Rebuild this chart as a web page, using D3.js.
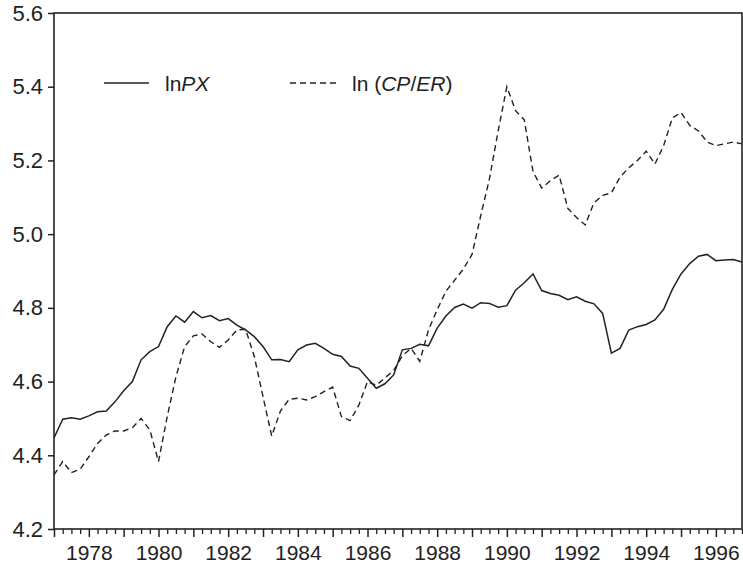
<!DOCTYPE html>
<html><head><meta charset="utf-8">
<script src="https://cdn.jsdelivr.net/npm/d3@7"></script>
<style>
body{margin:0;background:#fff;}
svg text{font-family:"Liberation Sans",Arial,Helvetica,sans-serif;fill:#222;}
</style></head>
<body><svg id="chart" width="743" height="567"></svg>
<script>
const startYear = 1977;
const yearLabels = [1978,1980,1982,1984,1986,1988,1990,1992,1994,1996];
const yTicks = [4.2,4.4,4.6,4.8,5.0,5.2,5.4,5.6];
// quarterly 1977Q1 .. 1996Q4
const lnPX = [
 4.447,4.498,4.502,4.498,4.507,4.518,4.520,4.545,
 4.575,4.600,4.659,4.681,4.695,4.749,4.778,4.761,
 4.790,4.773,4.779,4.765,4.771,4.753,4.740,4.722,
 4.695,4.659,4.660,4.654,4.686,4.699,4.704,4.690,
 4.674,4.668,4.642,4.636,4.609,4.582,4.594,4.618,
 4.686,4.690,4.701,4.697,4.745,4.778,4.801,4.810,
 4.799,4.814,4.812,4.802,4.806,4.848,4.868,4.892,
 4.847,4.839,4.834,4.822,4.830,4.818,4.811,4.785,
 4.677,4.690,4.740,4.749,4.755,4.767,4.796,4.850,
 4.892,4.920,4.940,4.945,4.928,4.930,4.931,4.924
];
const lnCPER = [
 4.347,4.383,4.353,4.362,4.396,4.432,4.455,4.466,
 4.466,4.475,4.500,4.469,4.383,4.505,4.613,4.695,
 4.724,4.729,4.708,4.693,4.713,4.740,4.742,4.668,
 4.559,4.452,4.520,4.552,4.555,4.550,4.559,4.573,
 4.585,4.505,4.494,4.536,4.600,4.590,4.610,4.630,
 4.670,4.690,4.655,4.740,4.795,4.845,4.875,4.905,
 4.945,5.050,5.150,5.280,5.400,5.335,5.310,5.170,
 5.125,5.145,5.160,5.070,5.045,5.025,5.085,5.105,
 5.112,5.155,5.180,5.200,5.225,5.190,5.240,5.315,
 5.330,5.295,5.280,5.250,5.240,5.245,5.250,5.245
];

const svg = d3.select("#chart");
const L=54, R=742, T=13, B=529;
const tOf = i => startYear + i/4;
const x = d3.scaleLinear().domain([startYear, startYear + (lnPX.length-1)/4]).range([L,R]);
const y = d3.scaleLinear().domain([4.2,5.6]).range([B,T]);
const ink = "#222";
const fontFam = "Liberation Sans, Arial, sans-serif";

svg.append("defs").append("clipPath").attr("id","clip")
  .append("rect").attr("x",L).attr("y",T).attr("width",R-L).attr("height",B-T);

// y axis
const yAxis = d3.axisLeft(y).tickValues(yTicks).tickFormat(d3.format(".1f")).tickSize(6).tickPadding(5);
const gy = svg.append("g").attr("transform",`translate(${L},0)`).call(yAxis);
gy.select(".domain").remove();
gy.selectAll(".tick line").attr("stroke",ink).attr("stroke-width",1.5);
gy.selectAll(".tick text").attr("font-size",22).attr("fill",ink).attr("font-family",fontFam);

// x axis: quarterly minor ticks, yearly major ticks
const quarterVals = d3.range(lnPX.length).map(tOf);
const xMinor = d3.axisBottom(x).tickValues(quarterVals.filter((d,i)=>i%4!==0)).tickSize(5).tickFormat("");
const gxm = svg.append("g").attr("transform",`translate(0,${B})`).call(xMinor);
gxm.select(".domain").remove();
gxm.selectAll(".tick line").attr("stroke",ink).attr("stroke-width",1.3);
const yearVals = quarterVals.filter((d,i)=>i%4===0);
const xMajor = d3.axisBottom(x).tickValues(yearVals).tickSize(8)
  .tickFormat(d => yearLabels.includes(d) ? String(d) : "").tickPadding(8);
const gx = svg.append("g").attr("transform",`translate(0,${B})`).call(xMajor);
gx.select(".domain").remove();
gx.selectAll(".tick line").attr("stroke",ink).attr("stroke-width",1.5);
gx.selectAll(".tick text").attr("font-size",21).attr("fill",ink).attr("font-family",fontFam);

// frame
svg.append("rect").attr("x",L).attr("y",T).attr("width",R-L).attr("height",B-T)
  .attr("fill","none").attr("stroke",ink).attr("stroke-width",1.6);

// lines
const line = d3.line().x((d,i)=>x(tOf(i))).y(d=>y(d));
const g = svg.append("g").attr("clip-path","url(#clip)");
g.append("path").datum(lnCPER).attr("d",line).attr("fill","none")
  .attr("stroke",ink).attr("stroke-width",1.4).attr("stroke-dasharray","6,4");
g.append("path").datum(lnPX).attr("d",line).attr("fill","none")
  .attr("stroke",ink).attr("stroke-width",1.5);

// legend
const leg = svg.append("g");
leg.append("line").attr("x1",104).attr("x2",149).attr("y1",83).attr("y2",83)
  .attr("stroke",ink).attr("stroke-width",1.5);
const t1 = leg.append("text").attr("x",165).attr("y",91).attr("font-size",21);
t1.append("tspan").text("ln");
t1.append("tspan").attr("font-style","italic").text("PX");
leg.append("line").attr("x1",290).attr("x2",339).attr("y1",83).attr("y2",83)
  .attr("stroke",ink).attr("stroke-width",1.4).attr("stroke-dasharray","6,4");
const t2 = leg.append("text").attr("x",352).attr("y",91).attr("font-size",21);
t2.append("tspan").text("ln (");
t2.append("tspan").attr("font-style","italic").text("CP");
t2.append("tspan").text("/");
t2.append("tspan").attr("font-style","italic").text("ER");
t2.append("tspan").text(")");
</script></body></html>
